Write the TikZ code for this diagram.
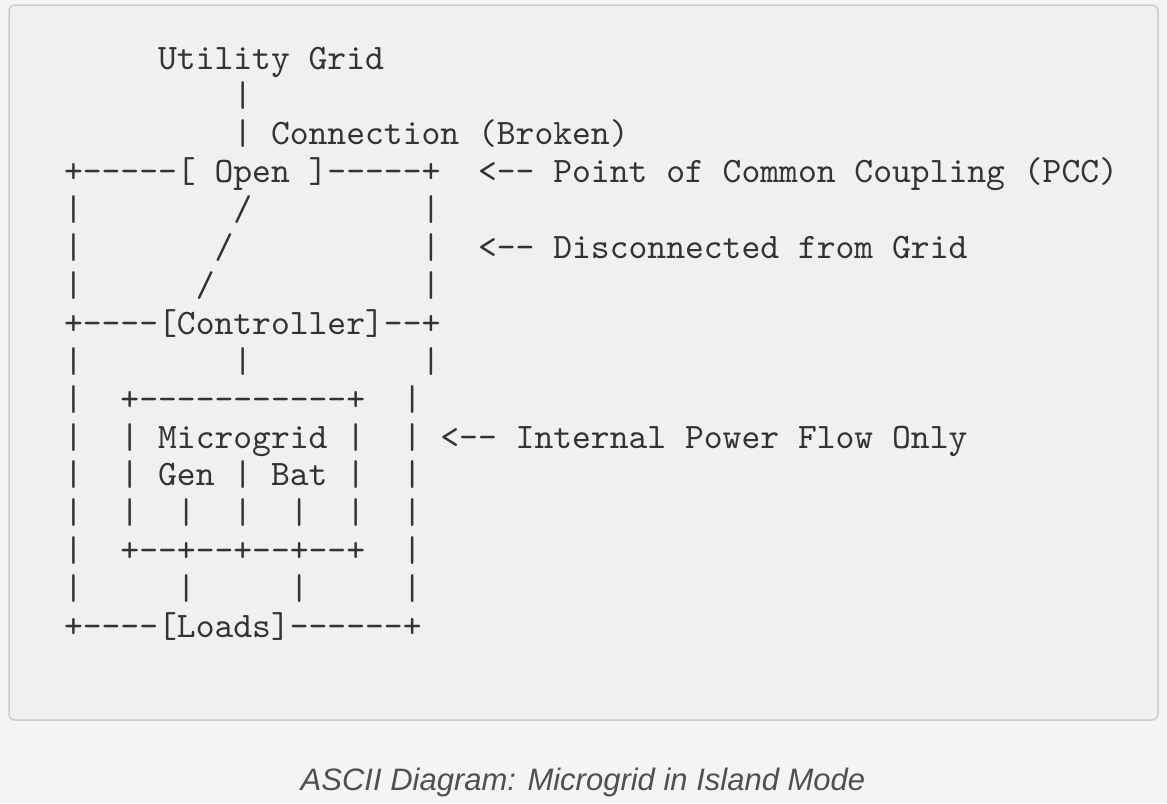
\documentclass[tikz,border=0pt]{standalone}
\usepackage{fontspec}
\setmonofont{lmmono10-regular.otf}
\newfontfamily\capfont{Liberation Sans}
\definecolor{pagebg}{HTML}{F4F4F4}
\definecolor{boxbg}{HTML}{F0F0F0}
\definecolor{boxborder}{HTML}{CCCCCC}
\definecolor{textgray}{HTML}{333333}
\definecolor{capgray}{HTML}{505050}
\begin{document}
\begin{tikzpicture}[x=1pt,y=-1pt,
  asc/.style={anchor=base west, inner sep=0pt, outer sep=0pt, text=textgray,
    font=\ttfamily\fontsize{35.85}{35.85}\selectfont},
  captxt/.style={anchor=base, inner sep=0pt, text=capgray,
    font=\capfont\itshape\fontsize{31}{31}\selectfont}]
\useasboundingbox (0,0) rectangle (1167,803);
\fill[pagebg] (0,0) rectangle (1167,803);
\draw[boxborder, fill=boxbg, line width=1.5pt, rounded corners=6pt] (9,5) rectangle (1158,720);
\node[asc] (l1)  at (64,69.0)  {~~~~~Utility Grid};
\node[asc] (l2)  at (64,106.9) {~~~~~~~~~|};
\node[asc] (l3)  at (64,144.8) {~~~~~~~~~|~Connection~(Broken)};
\node[asc] (l4)  at (64,182.7) {+-----[~Open~]-----+~~<--~Point~of~Common~Coupling~(PCC)};
\node[asc] (l5)  at (64,220.6) {|~~~~~~~~/~~~~~~~~~|};
\node[asc] (l6)  at (64,258.5) {|~~~~~~~/~~~~~~~~~~|~~<--~Disconnected~from~Grid};
\node[asc] (l7)  at (64,296.4) {|~~~~~~/~~~~~~~~~~~|};
\node[asc] (l8)  at (64,334.3) {+----[Controller]--+};
\node[asc] (l9)  at (64,372.2) {|~~~~~~~~|~~~~~~~~~|};
\node[asc] (l10) at (64,410.1) {|~~+-----------+~~|};
\node[asc] (l11) at (64,448.0) {|~~|~Microgrid~|~~|~<--~Internal~Power~Flow~Only};
\node[asc] (l12) at (64,485.9) {|~~|~Gen~|~Bat~|~~|};
\node[asc] (l13) at (64,523.8) {|~~|~~|~~|~~|~~|~~|};
\node[asc] (l14) at (64,561.7) {|~~+--+--+--+--+~~|};
\node[asc] (l15) at (64,599.6) {|~~~~~|~~~~~|~~~~~|};
\node[asc] (l16) at (64,637.5) {+----[Loads]------+};
\node[captxt] (cap) at (583,790) {ASCII Diagram: Microgrid in Island Mode};
\end{tikzpicture}
\end{document}
